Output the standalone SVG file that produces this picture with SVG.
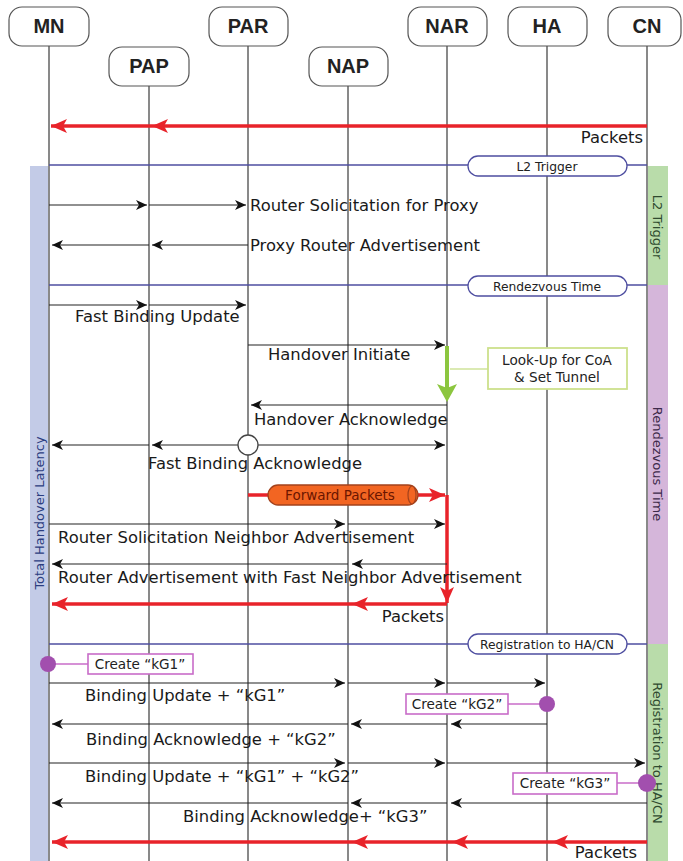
<svg xmlns="http://www.w3.org/2000/svg" width="683" height="861" viewBox="0 0 683 861">
<style>
.hdr{fill:#fff;stroke:#555;stroke-width:1.2}
.hdrt{font-family:"Liberation Sans",Arial,sans-serif;font-weight:bold;font-size:20px;fill:#222;text-anchor:middle}
.life{stroke:#4a4a4a;stroke-width:1.3;fill:none}
.msg{stroke:#222;stroke-width:1.1;fill:none;marker-end:url(#ah)}
.red{stroke:#e8232a;stroke-width:3.5;fill:none;marker-end:url(#rh)}
.redl{stroke:#e8232a;stroke-width:3.5;fill:none}
.sep{stroke:#4e4ea0;stroke-width:1.3;fill:none}
.pill{fill:#fff;stroke:#4e4ea0;stroke-width:1.3}
.pt{font-family:"DejaVu Sans",Verdana,sans-serif;font-size:12.3px;fill:#222;text-anchor:middle}
.lbl{font-family:"DejaVu Sans",Verdana,sans-serif;font-size:16.4px;fill:#1a1a1a}
.note{fill:#fff;stroke:#c86cc8;stroke-width:1.6}
.nt{font-family:"DejaVu Sans",Verdana,sans-serif;font-size:13.6px;fill:#222;text-anchor:middle}
.dot{fill:#a24fae}
.vt{font-family:"DejaVu Sans",Verdana,sans-serif;font-size:13px;text-anchor:middle}
</style>
<defs>
<marker id="ah" markerUnits="userSpaceOnUse" viewBox="0 0 11 10" refX="11" refY="5" markerWidth="11" markerHeight="10" orient="auto">
<path d="M0,0 L11,5 L0,10 L3,5 z" fill="#111"/>
</marker>
<marker id="rh" markerUnits="userSpaceOnUse" viewBox="0 0 16 14" refX="16" refY="7" markerWidth="16" markerHeight="14" orient="auto">
<path d="M0,0 L16,7 L0,14 L4,7 z" fill="#e8232a"/>
</marker>
</defs>
<rect width="683" height="861" fill="#fff"/>

<g id="phases">
<rect x="30" y="166" width="18" height="695" fill="#c3cbe7"/>
<text class="vt" font-size="12" fill="#2b3d80" transform="translate(44,513) rotate(-90)">Total Handover Latency</text>
<rect x="648" y="166" width="20" height="119" fill="#b9dcaa"/>
<text class="vt" fill="#2f4a2f" transform="translate(653,227) rotate(90)">L2 Trigger</text>
<rect x="648" y="285" width="20" height="359" fill="#d5b6da"/>
<text class="vt" fill="#3d2a4a" transform="translate(653,464) rotate(90)">Rendezvous Time</text>
<rect x="648" y="644" width="20" height="217" fill="#b9dcaa"/>
<text class="vt" fill="#2f4a2f" font-size="13.5" transform="translate(653,753) rotate(90)">Registration to HA/CN</text>
</g>

<g id="lifelines">
<line class="life" x1="49" y1="46" x2="49" y2="861"/>
<line class="life" x1="149" y1="86" x2="149" y2="861"/>
<line class="life" x1="248" y1="46" x2="248" y2="861"/>
<line class="life" x1="348" y1="86" x2="348" y2="861"/>
<line class="life" x1="447" y1="46" x2="447" y2="861"/>
<line class="life" x1="547" y1="46" x2="547" y2="861"/>
<line class="life" x1="647" y1="46" x2="647" y2="861"/>
</g>

<g id="node-MN"><rect class="hdr" x="9" y="7" width="80" height="39" rx="13"/><text class="hdrt" x="49" y="33">MN</text></g>
<g id="node-PAP"><rect class="hdr" x="109" y="47" width="80" height="39" rx="13"/><text class="hdrt" x="149" y="73">PAP</text></g>
<g id="node-PAR"><rect class="hdr" x="209" y="7" width="79" height="39" rx="13"/><text class="hdrt" x="248" y="33">PAR</text></g>
<g id="node-NAP"><rect class="hdr" x="309" y="47" width="79" height="39" rx="13"/><text class="hdrt" x="348" y="73">NAP</text></g>
<g id="node-NAR"><rect class="hdr" x="408" y="7" width="79" height="39" rx="13"/><text class="hdrt" x="447" y="33">NAR</text></g>
<g id="node-HA"><rect class="hdr" x="508" y="7" width="79" height="39" rx="13"/><text class="hdrt" x="547" y="33">HA</text></g>
<g id="node-CN"><rect class="hdr" x="608" y="7" width="73" height="39" rx="13"/><text class="hdrt" x="647" y="33">CN</text></g>

<g id="separators">
<line class="sep" x1="49" y1="165" x2="647" y2="165"/>
<rect class="pill" x="468" y="156" width="159" height="20" rx="10"/>
<text class="pt" x="547" y="170.5">L2 Trigger</text>
<line class="sep" x1="49" y1="285" x2="647" y2="285"/>
<rect class="pill" x="468" y="276" width="159" height="20" rx="10"/>
<text class="pt" x="547" y="290.5">Rendezvous Time</text>
<line class="sep" x1="49" y1="644" x2="647" y2="644"/>
<rect class="pill" x="468" y="634" width="159" height="20" rx="10"/>
<text class="pt" x="547" y="648.5">Registration to HA/CN</text>
</g>

<g id="connectors">
<line class="red" x1="647" y1="126" x2="152" y2="126"/>
<line class="red" x1="152" y1="126" x2="51" y2="126"/>

<line class="msg" x1="49" y1="205" x2="147" y2="205"/>
<line class="msg" x1="149" y1="205" x2="246" y2="205"/>
<line class="msg" x1="248" y1="245" x2="152" y2="245"/>
<line class="msg" x1="149" y1="245" x2="52" y2="245"/>

<line class="msg" x1="49" y1="305" x2="147" y2="305"/>
<line class="msg" x1="149" y1="305" x2="246" y2="305"/>

<line class="msg" x1="248" y1="345" x2="445" y2="345"/>
<line stroke="#8cc63f" stroke-width="4" x1="447" y1="346" x2="447" y2="388"/>
<path d="M437,384 L447,402 L457,384 L447,388 z" fill="#8cc63f"/>

<line class="msg" x1="447" y1="405" x2="251" y2="405"/>

<line class="msg" x1="238" y1="445" x2="152" y2="445"/>
<line class="msg" x1="149" y1="445" x2="52" y2="445"/>
<line class="msg" x1="258" y1="445" x2="445" y2="445"/>
<circle cx="248" cy="445" r="10" fill="#fff" stroke="#444" stroke-width="1.3"/>

<line class="redl" x1="248" y1="495" x2="270" y2="495"/>
<line class="red" x1="416" y1="495" x2="445" y2="495"/>
<path class="red" d="M447,495 L447,603"/>
<line class="red" x1="447" y1="604" x2="352" y2="604"/>
<line class="red" x1="352" y1="604" x2="52" y2="604"/>

<line class="msg" x1="49" y1="524" x2="345" y2="524"/>
<line class="msg" x1="348" y1="524" x2="445" y2="524"/>
<line class="msg" x1="447" y1="564" x2="352" y2="564"/>
<line class="msg" x1="348" y1="564" x2="52" y2="564"/>

<line class="msg" x1="49" y1="683" x2="345" y2="683"/>
<line class="msg" x1="348" y1="683" x2="445" y2="683"/>
<line class="msg" x1="447" y1="683" x2="545" y2="683"/>

<line class="msg" x1="547" y1="724" x2="451" y2="724"/>
<line class="msg" x1="447" y1="724" x2="351" y2="724"/>
<line class="msg" x1="348" y1="724" x2="52" y2="724"/>

<line class="msg" x1="49" y1="763" x2="345" y2="763"/>
<line class="msg" x1="348" y1="763" x2="445" y2="763"/>
<line class="msg" x1="447" y1="763" x2="645" y2="763"/>

<line class="msg" x1="647" y1="803" x2="451" y2="803"/>
<line class="msg" x1="447" y1="803" x2="351" y2="803"/>
<line class="msg" x1="348" y1="803" x2="52" y2="803"/>

<line class="red" x1="647" y1="842" x2="552" y2="842"/>
<line class="red" x1="552" y1="842" x2="452" y2="842"/>
<line class="red" x1="452" y1="842" x2="352" y2="842"/>
<line class="red" x1="352" y1="842" x2="52" y2="842"/>
</g>

<g id="forward-packets">
<rect x="268" y="485" width="150" height="20" rx="10" fill="#f26522" stroke="#a3421c" stroke-width="1.3"/>
<ellipse cx="412" cy="495" rx="4" ry="9" fill="#f26522" stroke="#a3421c" stroke-width="1.2"/>
<text x="340" y="500" font-family="DejaVu Sans,Verdana,sans-serif" font-size="13.5" fill="#6b1500" text-anchor="middle">Forward Packets</text>
</g>

<g id="note-lookup">
<line stroke="#cfe39a" stroke-width="1.6" x1="450" y1="369" x2="488" y2="369"/>
<rect x="488" y="348" width="139" height="41" fill="#fff" stroke="#cde08c" stroke-width="1.8"/>
<text class="nt" x="557" y="365" font-size="13">Look-Up for CoA</text>
<text class="nt" x="557" y="382" font-size="13">&amp; Set Tunnel</text>
</g>

<g id="note-kG1">
<line stroke="#c86cc8" stroke-width="1.5" x1="48" y1="664" x2="88" y2="664"/>
<circle class="dot" cx="48" cy="664" r="8"/>
<rect class="note" x="88" y="654" width="105" height="20"/>
<text class="nt" x="140" y="669">Create “kG1”</text>
</g>
<g id="note-kG2">
<line stroke="#c86cc8" stroke-width="1.5" x1="508" y1="704" x2="547" y2="704"/>
<circle class="dot" cx="547" cy="704" r="8"/>
<rect class="note" x="406" y="694" width="102" height="20"/>
<text class="nt" x="457" y="709">Create “kG2”</text>
</g>
<g id="note-kG3">
<line stroke="#c86cc8" stroke-width="1.5" x1="617" y1="783" x2="647" y2="783"/>
<circle class="dot" cx="647" cy="783" r="9"/>
<rect class="note" x="513" y="773" width="104" height="21"/>
<text class="nt" x="565" y="788">Create “kG3”</text>
</g>

<g id="labels">
<text class="lbl" x="643" y="143" text-anchor="end">Packets</text>
<text class="lbl" x="250" y="211">Router Solicitation for Proxy</text>
<text class="lbl" x="250" y="251">Proxy Router Advertisement</text>
<text class="lbl" x="75" y="322">Fast Binding Update</text>
<text class="lbl" x="268" y="360">Handover Initiate</text>
<text class="lbl" x="254" y="425">Handover Acknowledge</text>
<text class="lbl" x="148" y="469">Fast Binding Acknowledge</text>
<text class="lbl" x="58" y="543">Router Solicitation Neighbor Advertisement</text>
<text class="lbl" x="58" y="583">Router Advertisement with Fast Neighbor Advertisement</text>
<text class="lbl" x="444" y="622" text-anchor="end">Packets</text>
<text class="lbl" x="85" y="701">Binding Update + “kG1”</text>
<text class="lbl" x="86" y="745">Binding Acknowledge + “kG2”</text>
<text class="lbl" x="85" y="782">Binding Update + “kG1” + “kG2”</text>
<text class="lbl" x="183" y="822">Binding Acknowledge+ “kG3”</text>
<text class="lbl" x="637" y="858" text-anchor="end">Packets</text>
</g>
</svg>
